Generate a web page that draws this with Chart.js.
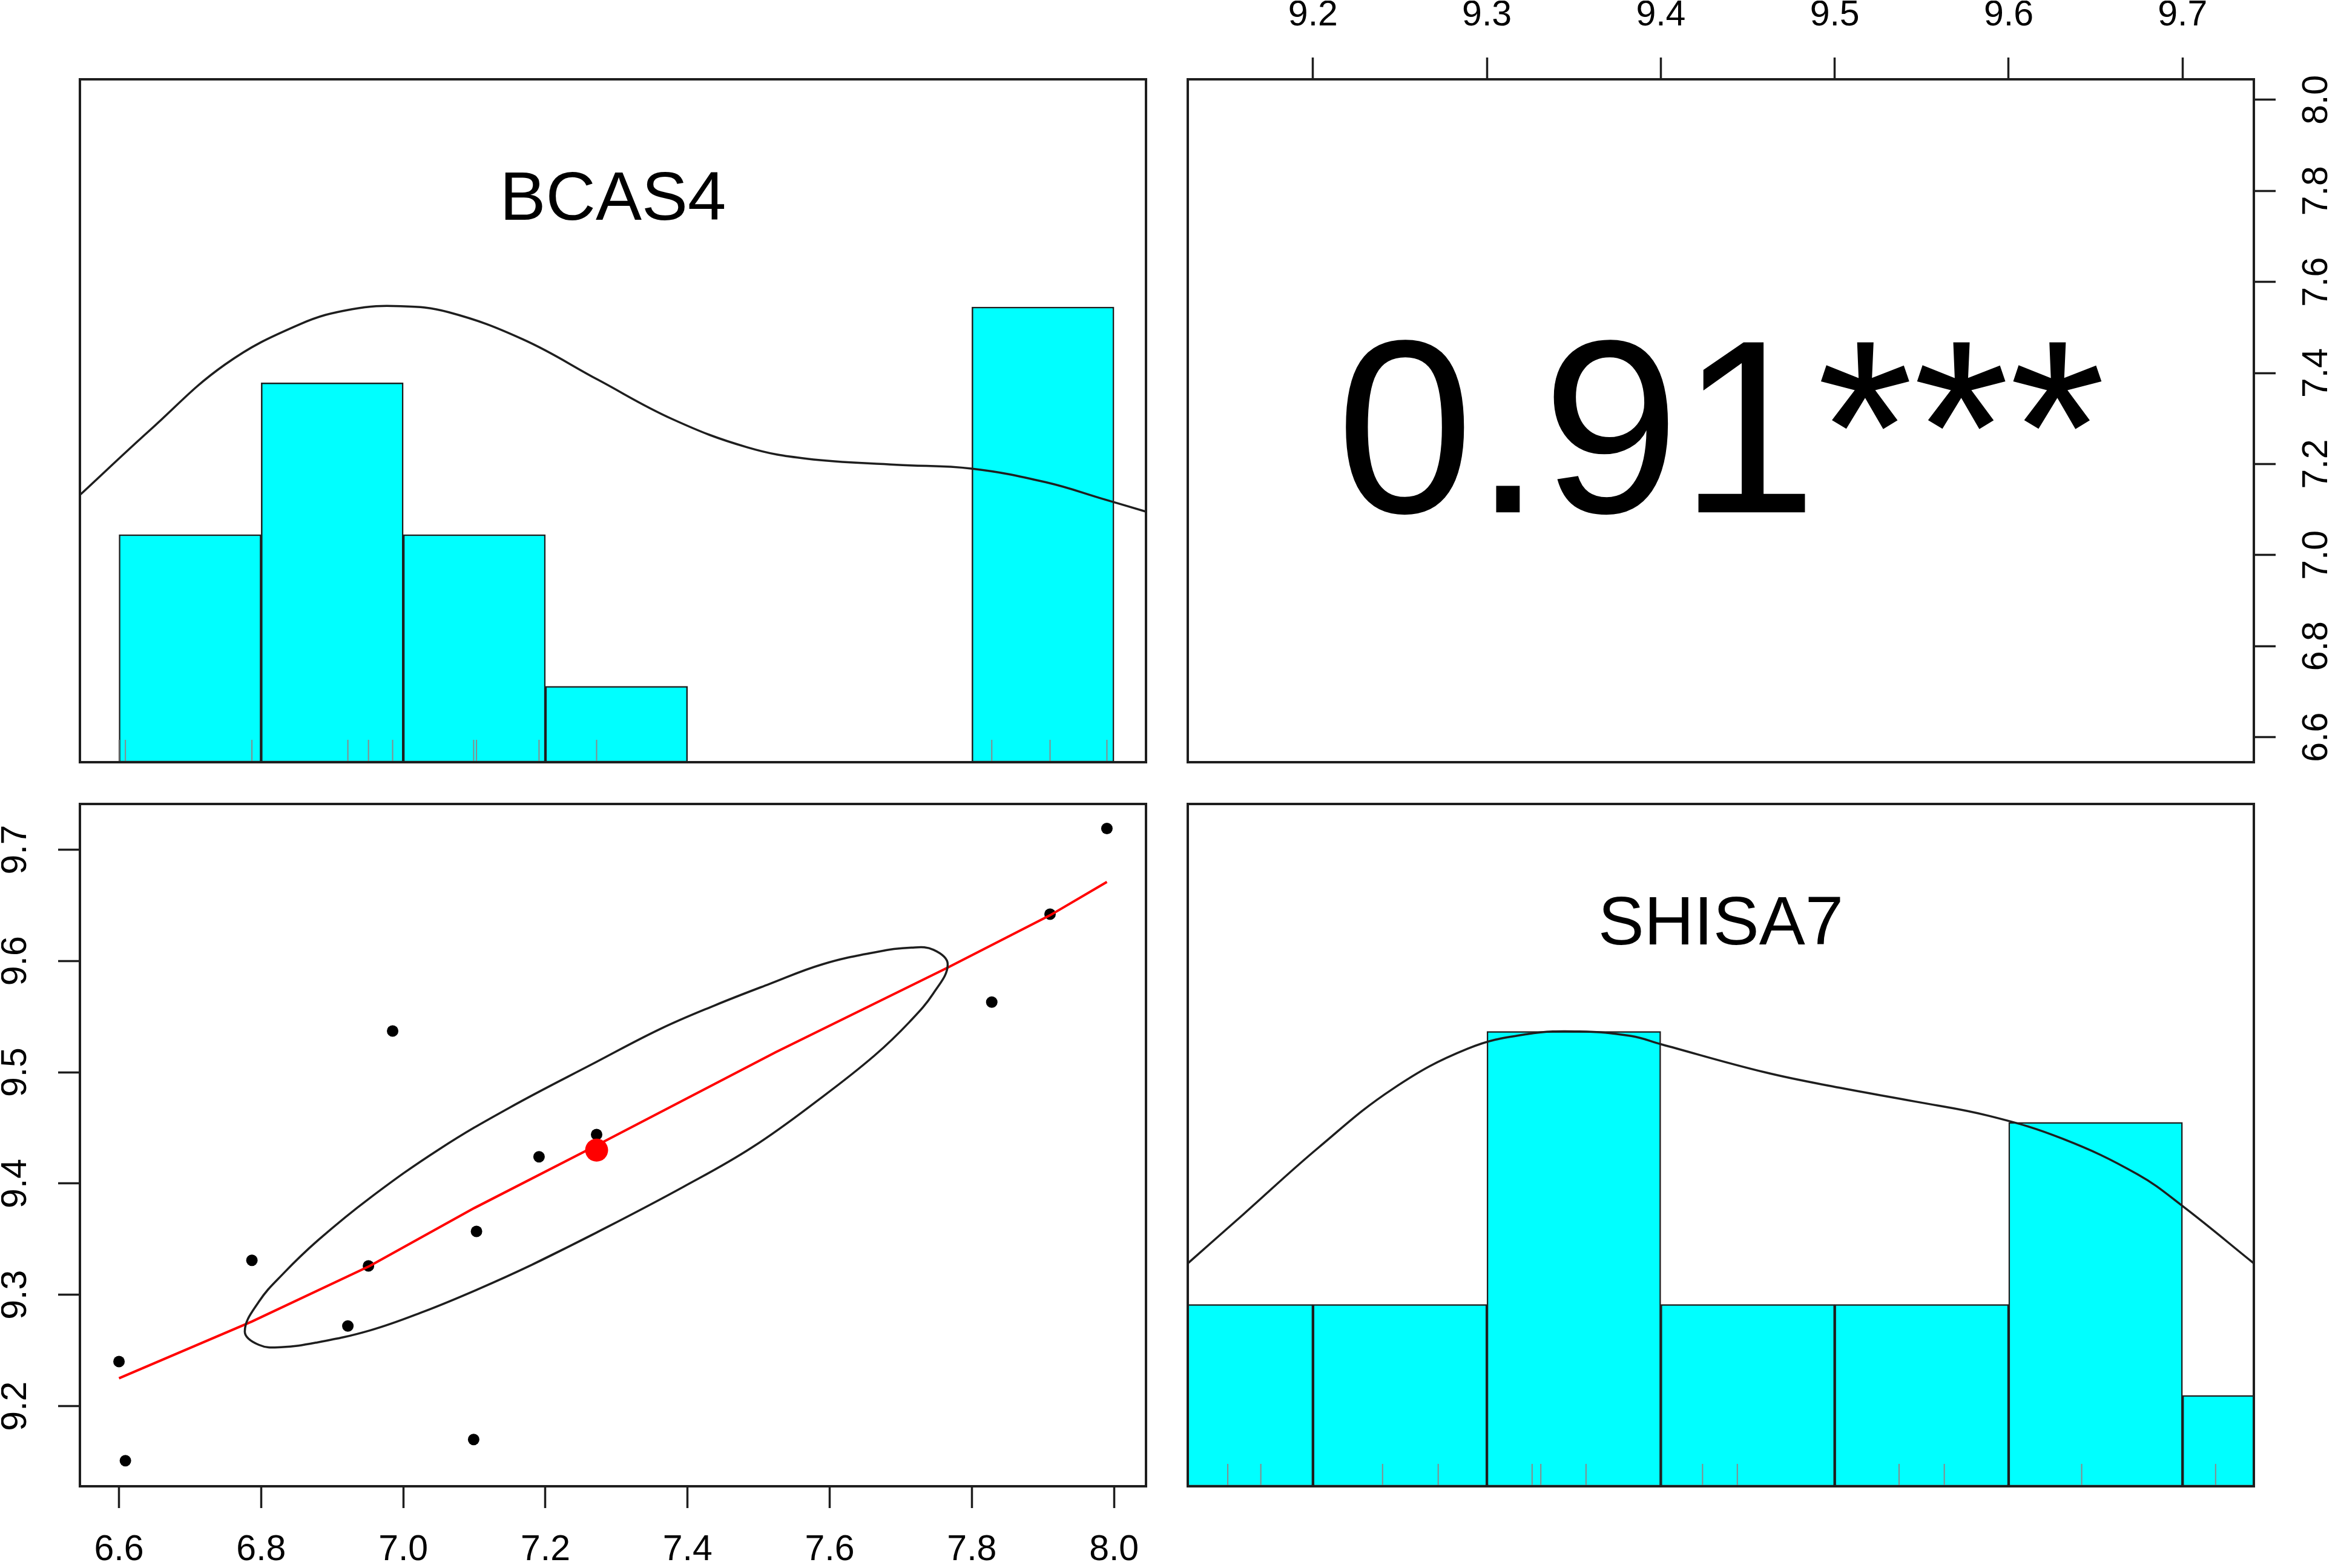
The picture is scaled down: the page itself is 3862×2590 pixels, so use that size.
<!DOCTYPE html>
<html>
<head>
<meta charset="utf-8">
<title>BCAS4 / SHISA7</title>
<script src="https://cdn.jsdelivr.net/npm/chart.js@4.4.0/dist/chart.umd.min.js"></script>
<style>
  html, body { margin: 0; padding: 0; background: #fff; }
  #wrap { position: relative; width: 3862px; height: 2590px; }
  #wrap canvas { position: absolute; left: 0; top: 0; }
</style>
</head>
<body>
<div id="wrap">
  <canvas id="histBcas" width="3862" height="2590"></canvas>
  <canvas id="corrPanel" width="3862" height="2590"></canvas>
  <canvas id="scatterPanel" width="3862" height="2590"></canvas>
  <canvas id="histShisa" width="3862" height="2590"></canvas>
</div>
<script>
// values
const varNames = ['BCAS4', 'SHISA7'];
const corrLabel = '0.91***';

const bcasTicks = [6.6, 6.8, 7.0, 7.2, 7.4, 7.6, 7.8, 8.0];
const shisaTicks = [9.2, 9.3, 9.4, 9.5, 9.6, 9.7];
const bcasRange = [6.545, 8.045];
const shisaRange = [9.128, 9.741];

// visible samples (x = BCAS4, y = SHISA7)
const bcas4 = [6.600, 6.609, 6.787, 6.922, 6.951, 6.985, 7.099, 7.103, 7.191, 7.272, 7.828, 7.910, 7.990];
const shisa7 = [9.240, 9.151, 9.331, 9.272, 9.326, 9.537, 9.170, 9.357, 9.424, 9.444, 9.563, 9.642, 9.719];
const meanPoint = [7.272, 9.430];

// histograms (bin centres / counts)
const bcasBins = [6.7, 6.9, 7.1, 7.3, 7.5, 7.7, 7.9];
const bcasCounts = [3, 5, 3, 1, 0, 0, 6];
const shisaBins = [9.15, 9.25, 9.35, 9.45, 9.55, 9.65, 9.75];
const shisaCounts = [2, 2, 5, 2, 2, 4, 1];

// density curves, in count units
const bcasDensity = [
  [6.546, 3.53], [6.644, 4.38], [6.749, 5.24], [6.854, 5.77], [6.928, 5.97], [6.996, 6.01],
  [7.064, 5.93], [7.169, 5.57], [7.274, 5.04], [7.379, 4.52], [7.484, 4.15], [7.568, 4.00],
  [7.694, 3.92], [7.799, 3.87], [7.904, 3.69], [7.988, 3.46], [8.046, 3.30]
];
const shisaDensity = [
  [9.128, 2.45], [9.160, 2.99], [9.203, 3.72], [9.246, 4.37], [9.289, 4.81], [9.323, 4.97],
  [9.353, 5.00], [9.383, 4.95], [9.400, 4.86], [9.460, 4.55], [9.503, 4.38], [9.546, 4.23],
  [9.589, 4.07], [9.631, 3.82], [9.674, 3.43], [9.700, 3.08], [9.741, 2.45]
];

// smoother (red) and correlation ellipse
const loessLine = [
  [6.600, 9.225], [6.787, 9.276], [6.953, 9.326], [7.100, 9.378], [7.271, 9.434],
  [7.524, 9.518], [7.766, 9.594], [7.910, 9.641], [7.990, 9.671]
];
const ellipseLine = [
  [7.181, 9.327], [7.272, 9.356], [7.394, 9.397], [7.492, 9.433], [7.590, 9.478], [7.663, 9.515],
  [7.712, 9.545], [7.746, 9.571], [7.766, 9.597], [7.746, 9.610], [7.715, 9.612], [7.666, 9.608],
  [7.590, 9.597], [7.514, 9.579], [7.438, 9.560], [7.362, 9.539], [7.271, 9.509], [7.149, 9.468],
  [7.051, 9.431], [6.953, 9.387], [6.880, 9.349], [6.831, 9.319], [6.797, 9.294], [6.777, 9.267],
  [6.797, 9.255], [6.828, 9.253], [6.877, 9.257], [6.953, 9.268], [7.029, 9.285], [7.105, 9.305],
  [7.181, 9.327], [7.272, 9.356]
];

const W = 3862, H = 2590, AX = 130;
const colX = [[132, 1893], [1962, 3723]];
const rowY = [[131, 1259], [1328, 2455]];
const FONT = '"Liberation Sans", Arial, Helvetica, sans-serif';
const INK = '#1e1e1e';

const xy = (pairs) => pairs.map(p => ({ x: p[0], y: p[1] }));

function panelPadding(col, row, axes) {
  return {
    left: colX[col][0] - (axes.left ? AX : 0),
    top: rowY[row][0] - (axes.top ? AX : 0),
    right: W - colX[col][1] - (axes.right ? AX : 0),
    bottom: H - rowY[row][1] - (axes.bottom ? AX : 0)
  };
}

const framePlugin = {
  id: 'frame',
  afterDraw(chart) {
    const a = chart.chartArea, ctx = chart.ctx;
    ctx.save();
    ctx.strokeStyle = INK;
    ctx.lineWidth = 4;
    ctx.strokeRect(a.left, a.top, a.right - a.left, a.bottom - a.top);
    ctx.restore();
  }
};

const labelPlugin = {
  id: 'panelLabel',
  afterDatasetsDraw(chart, args, opts) {
    if (!opts || !opts.text) return;
    const a = chart.chartArea, ctx = chart.ctx;
    ctx.save();
    ctx.fillStyle = '#000';
    ctx.font = opts.size + 'px ' + FONT;
    ctx.textAlign = 'center';
    ctx.textBaseline = 'alphabetic';
    ctx.fillText(opts.text, (a.left + a.right) / 2, a.top + opts.base * (a.bottom - a.top));
    ctx.restore();
  }
};

function tickAxis(position, ticks, range) {
  const vertical = position === 'left' || position === 'right';
  return {
    type: 'linear', position, min: range[0], max: range[1], offset: false,
    afterBuildTicks: s => { s.ticks = ticks.map(v => ({ value: v })); },
    afterFit: s => { if (vertical) s.width = AX; else s.height = AX; },
    grid: { drawOnChartArea: false, drawTicks: true, tickLength: 36, tickColor: INK, tickWidth: 3.5, offset: false },
    border: { display: false },
    ticks: {
      autoSkip: false, color: '#000',
      font: { family: FONT, size: 59, lineHeight: 1 },
      padding: vertical ? 28 : 40,
      minRotation: vertical ? 90 : 0, maxRotation: vertical ? 90 : 0,
      crossAlign: vertical ? 'center' : 'near',
      callback: v => Number(v).toFixed(1)
    }
  };
}

function hiddenAxis(range, ticks) {
  return {
    type: 'linear', display: false, min: range[0], max: range[1], offset: false,
    afterBuildTicks: s => { if (ticks) s.ticks = ticks.map(v => ({ value: v })); },
    grid: { offset: false }
  };
}

const baseOptions = {
  responsive: false, animation: false, devicePixelRatio: 1,
  events: [],
  plugins: { legend: { display: false }, tooltip: { enabled: false } }
};

function histChart(id, col, row, bins, counts, density, rug, range, ticks, yMax, name) {
  return new Chart(document.getElementById(id), {
    type: 'bar',
    data: {
      datasets: [
        { type: 'line', data: xy(density), borderColor: INK, borderWidth: 3.5, pointRadius: 0,
          tension: 0.4, clip: 0, order: 0 },
        { type: 'scatter', data: rug.map(v => ({ x: v, y: 0 })), pointStyle: 'line', pointRotation: 90,
          pointRadius: 37, pointBorderColor: '#8a8a8a', pointBorderWidth: 2, clip: 0, order: 1 },
        { data: bins.map((b, i) => ({ x: b, y: counts[i] })), backgroundColor: '#00FFFF',
          borderColor: INK, borderWidth: 2.5, borderSkipped: false,
          barPercentage: 1, categoryPercentage: 1, clip: 0, order: 2 }
      ]
    },
    options: Object.assign({}, baseOptions, {
      layout: { autoPadding: false, padding: panelPadding(col, row, {}) },
      scales: { x: hiddenAxis(range, ticks), y: hiddenAxis([0, yMax]) },
      plugins: Object.assign({}, baseOptions.plugins, { panelLabel: { text: name, size: 114, base: 0.206 } })
    }),
    plugins: [framePlugin, labelPlugin]
  });
}

// top-left: BCAS4 histogram
histChart('histBcas', 0, 0, bcasBins, bcasCounts, bcasDensity, bcas4, bcasRange, bcasTicks, 9, varNames[0]);

// bottom-right: SHISA7 histogram
histChart('histShisa', 1, 1, shisaBins, shisaCounts, shisaDensity, shisa7, shisaRange, shisaTicks, 7.5, varNames[1]);

// top-right: correlation value with the top and right axes
new Chart(document.getElementById('corrPanel'), {
  type: 'scatter',
  data: { datasets: [] },
  options: Object.assign({}, baseOptions, {
    layout: { autoPadding: false, padding: panelPadding(1, 0, { top: true, right: true }) },
    scales: {
      x: tickAxis('top', shisaTicks, shisaRange),
      y: tickAxis('right', bcasTicks, bcasRange)
    },
    plugins: Object.assign({}, baseOptions.plugins, { panelLabel: { text: corrLabel, size: 408, base: 0.634 } })
  }),
  plugins: [framePlugin, labelPlugin]
});

// bottom-left: scatter with smoother, ellipse and mean
new Chart(document.getElementById('scatterPanel'), {
  type: 'scatter',
  data: {
    datasets: [
      { data: [{ x: meanPoint[0], y: meanPoint[1] }], pointRadius: 19, backgroundColor: '#FF0000',
        borderWidth: 0, order: 0 },
      { type: 'line', data: xy(ellipseLine), borderColor: INK, borderWidth: 3.5, pointRadius: 0,
        tension: 0.4, fill: false, order: 1 },
      { type: 'line', data: xy(loessLine), borderColor: '#FF0000', borderWidth: 4, pointRadius: 0,
        tension: 0, fill: false, order: 2 },
      { data: bcas4.map((v, i) => ({ x: v, y: shisa7[i] })), pointRadius: 9.5, backgroundColor: '#000',
        borderWidth: 0, order: 3 }
    ]
  },
  options: Object.assign({}, baseOptions, {
    layout: { autoPadding: false, padding: panelPadding(0, 1, { left: true, bottom: true }) },
    scales: {
      x: tickAxis('bottom', bcasTicks, bcasRange),
      y: tickAxis('left', shisaTicks, shisaRange)
    }
  }),
  plugins: [framePlugin]
});
</script>
</body>
</html>
